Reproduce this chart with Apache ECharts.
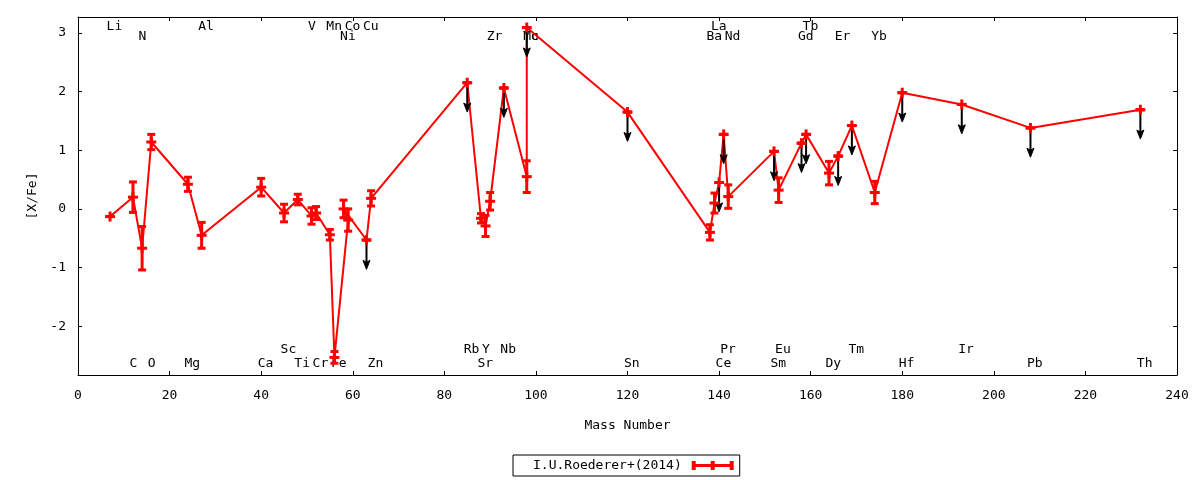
<!DOCTYPE html>
<html>
<head>
<meta charset="UTF-8">
<title>[X/Fe] vs Mass Number</title>
<script src="https://cdn.jsdelivr.net/npm/echarts@6/dist/echarts.min.js"></script>
<style>
  html, body { margin: 0; padding: 0; background: #fff; }
  #main { width: 1200px; height: 480px; }
</style>
</head>
<body>
<div id="main"></div>
<script>
// elements in order of Z, with the mass number used on the x axis
var elems  = ['Li','C','N','O','Mg','Al','Ca','Sc','Ti','V','Cr','Mn','Fe','Co','Ni','Cu','Zn',
              'Rb','Sr','Y','Zr','Nb','Mo','Tc','Sn','Ba','La','Ce','Pr','Nd','Sm','Eu','Gd','Tb',
              'Dy','Er','Tm','Yb','Hf','Ir','Pb','Th'];
var masses = [7,12,14,16,24,27,40,45,48,51,52,55,56,59,58,63,64,
              85,88,89,90,93,98,98,120,138,139,140,141,142,152,153,158,159,
              164,166,169,174,180,193,208,232];
var xfe    = [-0.13,0.20,-0.67,1.14,0.42,-0.45,0.37,-0.07,0.16,-0.12,-0.07,-0.44,-2.53,-0.19,0.00,-0.53,0.18,
              2.15,-0.16,-0.29,0.13,2.06,0.55,3.09,1.65,-0.40,0.10,0.45,1.27,0.21,0.98,0.32,1.12,1.27,
              0.61,0.90,1.42,0.28,1.98,1.78,1.38,1.69];
var errs   = [0,0.26,0.37,0.13,0.12,0.22,0.15,0.15,0.09,0.14,0.11,0.09,0.10,0.19,0.15,0,0.13,
              0,0.08,0.18,0.15,0,0.27,0,0,0.13,0.17,0,0,0.20,0,0.21,0,0,
              0.20,0,0,0.19,0,0,0,0];
// 1 = upper limit (drawn with a downward arrow)
var ulim   = [0,0,0,0,0,0,0,0,0,0,0,0,0,0,0,1,0,
              1,0,0,0,1,0,1,1,0,0,1,1,0,1,0,1,1,
              0,1,1,0,1,1,1,1];
// label row: t1/t2 near the top, b1/b2 near the bottom
var lrow   = ['t1','b2','t2','b2','b2','t1','b2','b1','b2','t1','b2','t1','b2','t1','t2','t1','b2',
              'b1','b2','b1','t2','b1','t2','t2','b2','t2','t1','b2','b1','t2','b2','b1','t2','t1',
              'b2','t2','b1','t2','b2','b1','b2','b2'];
var yTicks = [-2,-1,0,1,2,3];
var seriesName = 'I.U.Roederer+(2014)';

var rowY = { t1: 3.10, t2: 2.93, b1: -2.39, b2: -2.63 };
var MONO = '"DejaVu Sans Mono", monospace';
var FONT = '13px ' + MONO;
var RED = '#ff0000';

var lineData = [], errData = [], arrowData = [], labelData = [];
for (var i = 0; i < elems.length; i++) {
  lineData.push([masses[i], xfe[i]]);
  errData.push([masses[i], xfe[i], errs[i]]);
  if (ulim[i]) arrowData.push([masses[i], xfe[i]]);
  labelData.push([masses[i], rowY[lrow[i]], elems[i]]);
}

var myChart = echarts.init(document.getElementById('main'));

var axisCommon = {
  axisLine: { show: true, onZero: false, lineStyle: { color: '#000', width: 1 } },
  axisTick: { show: true, inside: true, length: 4, lineStyle: { color: '#000' } },
  splitLine: { show: false }
};

var option = {
  animation: false,
  backgroundColor: '#fff',
  textStyle: { fontFamily: MONO },
  grid: { left: 78, top: 17, right: 23, bottom: 105, containLabel: false },
  legend: {
    left: 513, top: 455,
    align: 'right',
    orient: 'horizontal',
    borderColor: '#000', borderWidth: 1, borderRadius: 0,
    padding: [4, 6, 4, 20],
    itemWidth: 42, itemHeight: 9,
    textStyle: { fontSize: 13, color: '#000', fontFamily: MONO, padding: [0, 5, 0, 0] },
    data: [{ name: seriesName, icon: 'path://M0,0h4v9h-4z M38,0h4v9h-4z M19,0h4v9h-4z M0,3h42v3h-42z' }]
  },
  xAxis: [
    Object.assign({
      type: 'value', min: 0, max: 240, interval: 20, position: 'bottom',
      name: 'Mass Number', nameLocation: 'middle', nameGap: 44,
      nameTextStyle: { fontSize: 13, color: '#000', fontFamily: MONO },
      axisLabel: { fontSize: 13, color: '#000', margin: 14, fontFamily: MONO }
    }, axisCommon),
    Object.assign({
      type: 'value', min: 0, max: 240, interval: 20, position: 'top',
      axisLabel: { show: false }
    }, axisCommon)
  ],
  yAxis: [
    Object.assign({}, axisCommon, {
      type: 'value', min: -2.83, max: 3.27, position: 'left',
      name: '[X/Fe]', nameLocation: 'middle', nameGap: 38,
      nameTextStyle: { fontSize: 13, color: '#000', fontFamily: MONO },
      axisTick: { show: true, inside: true, length: 4, lineStyle: { color: '#000' }, customValues: yTicks },
      axisLabel: { fontSize: 13, color: '#000', margin: 12, customValues: yTicks, fontFamily: MONO }
    }),
    Object.assign({}, axisCommon, {
      type: 'value', min: -2.83, max: 3.27, position: 'right',
      axisTick: { show: true, inside: true, length: 4, lineStyle: { color: '#000' }, customValues: yTicks },
      axisLabel: { show: false, customValues: yTicks }
    })
  ],
  series: [
    {
      // element names
      type: 'custom', silent: true, z: 1,
      data: labelData,
      renderItem: function (params, api) {
        var p = api.coord([api.value(0), api.value(1)]);
        return {
          type: 'text',
          style: {
            x: p[0] - 3.5, y: p[1], text: labelData[params.dataIndex][2],
            font: FONT, fill: '#000', align: 'left', verticalAlign: 'middle'
          }
        };
      }
    },
    {
      name: seriesName,
      type: 'line', z: 2,
      data: lineData,
      symbol: 'none',
      color: RED,
      itemStyle: { color: RED },
      lineStyle: { color: RED, width: 2 }
    },
    {
      // upper limits
      type: 'custom', silent: true, z: 3,
      data: arrowData,
      renderItem: function (params, api) {
        var x = api.value(0), v = api.value(1);
        var p = api.coord([x, v]);
        var tip = api.coord([x, v - 0.5]);
        var px = p[0], ty = tip[1];
        return {
          type: 'group',
          children: [
            { type: 'line', shape: { x1: px, y1: p[1], x2: px, y2: ty - 6 },
              style: { stroke: '#000', lineWidth: 2 } },
            { type: 'polygon', shape: { points: [[px, ty], [px - 3.5, ty - 9], [px, ty - 7], [px + 3.5, ty - 9]] },
              style: { fill: '#000', stroke: '#000', lineWidth: 1 } }
          ]
        };
      }
    },
    {
      // error bars and plus markers
      type: 'custom', silent: true, z: 4,
      data: errData,
      renderItem: function (params, api) {
        var x = api.value(0), v = api.value(1), e = api.value(2);
        var p = api.coord([x, v]);
        var t = api.coord([x, v + e]);
        var b = api.coord([x, v - e]);
        var st = { fill: RED };
        return {
          type: 'group',
          children: [
            { type: 'rect', shape: { x: p[0] - 1.5, y: t[1], width: 3, height: b[1] - t[1] }, style: st },
            { type: 'rect', shape: { x: p[0] - 4, y: t[1] - 1.5, width: 8, height: 3 }, style: st },
            { type: 'rect', shape: { x: p[0] - 4, y: b[1] - 1.5, width: 8, height: 3 }, style: st },
            { type: 'rect', shape: { x: p[0] - 5, y: p[1] - 1.5, width: 10, height: 3 }, style: st },
            { type: 'rect', shape: { x: p[0] - 1.5, y: p[1] - 5, width: 3, height: 10 }, style: st }
          ]
        };
      }
    }
  ]
};

myChart.setOption(option);
</script>
</body>
</html>
